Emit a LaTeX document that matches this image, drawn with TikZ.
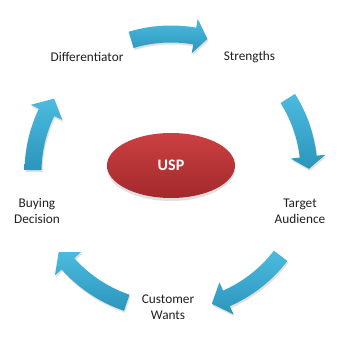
\documentclass[tikz,border=0pt]{standalone}
\usepackage{fontspec}
\setmainfont{Carlito}
\usetikzlibrary{shapes.geometric,shadows}
\definecolor{arrowlight}{HTML}{4BBBDF}
\definecolor{arrowdark}{HTML}{2C95BC}
\definecolor{usplight}{HTML}{CB4042}
\definecolor{uspdark}{HTML}{A3292B}
\begin{document}
\begin{tikzpicture}[x=1pt,y=1pt,
  lbl/.style={font=\fontsize{13.3}{16}\selectfont, text=black!88, align=center, inner sep=0pt},
  cyc/.style={top color=arrowlight, bottom color=arrowdark, draw=none,
    drop shadow={shadow xshift=1pt, shadow yshift=-2pt, opacity=0.12, fill=black}},
  uspnode/.style={ellipse, minimum width=128pt, minimum height=65pt, inner sep=0pt,
    top color=usplight, bottom color=uspdark, draw=none, text=white,
    font=\fontsize{16}{18}\selectfont\bfseries,
    drop shadow={shadow xshift=0pt, shadow yshift=-3pt, opacity=0.12, fill=black}}]
\useasboundingbox (0,0) rectangle (356,340);
\coordinate (C) at (171,168);
\newcommand\cycarrow[3]{%
  \path[cyc] ([shift={(#1:146.5)}]C) arc[start angle=#1, end angle=#2, radius=146.5]
    -- ([shift={(#2:155.5)}]C) -- ([shift={(#3:138)}]C) -- ([shift={(#2:120.5)}]C)
    -- ([shift={(#2:129.5)}]C) arc[start angle=#2, end angle=#1, radius=129.5] -- cycle;}
\cycarrow{106.8}{80.1}{74.7}
\cycarrow{32.2}{6.4}{1.3}
\cycarrow{-37.4}{-66.3}{-72.8}
\cycarrow{-108.7}{-138.3}{-144.5}
\cycarrow{179.2}{154.4}{147.9}
\node[uspnode] (usp) at (171,174.5) {USP};
\node[lbl] (diff) at (87,283) {Differentiator};
\node[lbl] (str) at (249.5,283) {Strengths};
\node[lbl] (tgt) at (300,129) {Target\\Audience};
\node[lbl] (cust) at (168,32.5) {Customer\\Wants};
\node[lbl] (buy) at (37,129) {Buying\\Decision};
\end{tikzpicture}
\end{document}
